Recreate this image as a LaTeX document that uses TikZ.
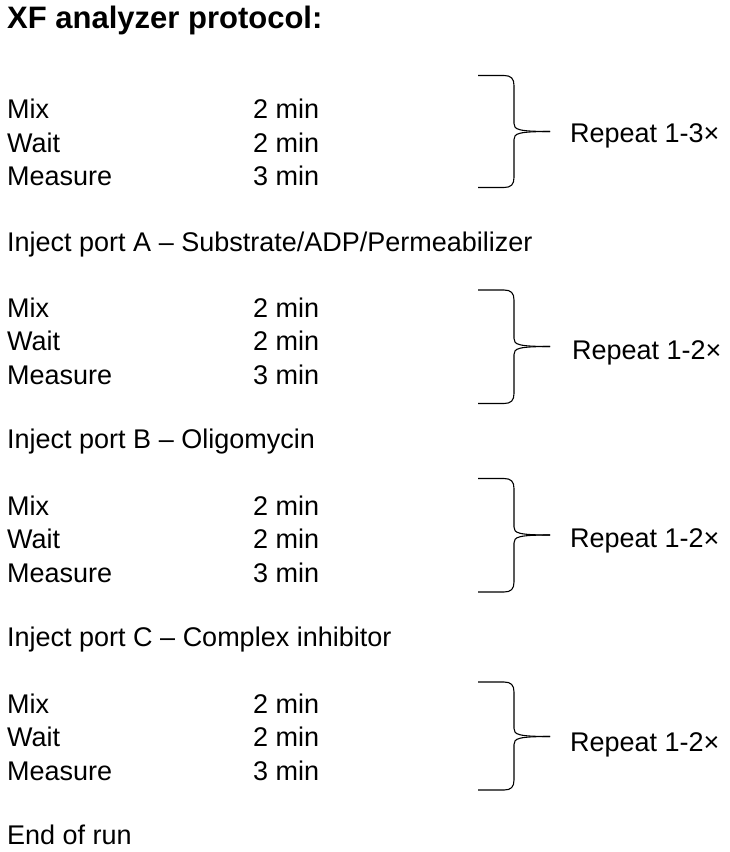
\documentclass[tikz,border=0pt]{standalone}
\usepackage{fontspec}
\setmainfont{Liberation Sans}
\newcommand{\mybrace}[3]{%
  \draw[brc] (478,#1) -- (504,#1) .. controls (511,#1) and (514,#1+3) .. (514,#1+10)
    -- (514,#2-8) .. controls (514,#2-2) and (518,#2) .. (550,#2);
  \draw[brc] (478,#3) -- (504,#3) .. controls (511,#3) and (514,#3-3) .. (514,#3-10)
    -- (514,#2+8) .. controls (514,#2+2) and (518,#2) .. (550,#2);}
\begin{document}
\begin{tikzpicture}[x=1pt,y=-1pt,
  txt/.style={anchor=base west,inner sep=0pt,font=\fontsize{27}{31}\selectfont},
  ttl/.style={anchor=base west,inner sep=0pt,font=\fontsize{31}{35}\selectfont\bfseries},
  brc/.style={line width=1.1pt,black}]
\useasboundingbox (0,0) rectangle (729,852);
\node[ttl] (title) at (7,28) {XF analyzer protocol:};
% block 1
\node[txt] (mix1) at (7,118) {Mix};
\node[txt] (wait1) at (7,152) {Wait};
\node[txt] (meas1) at (7,185) {Measure};
\node[txt] (t1a) at (253,118) {2 min};
\node[txt] (t1b) at (253,152) {2 min};
\node[txt] (t1c) at (253,185) {3 min};
\node[txt] (rep1) at (570,142.5) {Repeat 1-3×};
\node[txt] (injA) at (7,251.5) {Inject port A – Substrate/ADP/Permeabilizer};
% block 2
\node[txt] (mix2) at (7,317) {Mix};
\node[txt] (wait2) at (7,350) {Wait};
\node[txt] (meas2) at (7,384) {Measure};
\node[txt] (t2a) at (253,317) {2 min};
\node[txt] (t2b) at (253,350) {2 min};
\node[txt] (t2c) at (253,384) {3 min};
\node[txt] (rep2) at (572,359.5) {Repeat 1-2×};
\node[txt] (injB) at (7,448.5) {Inject port B – Oligomycin};
% block 3
\node[txt] (mix3) at (7,515) {Mix};
\node[txt] (wait3) at (7,548) {Wait};
\node[txt] (meas3) at (7,582) {Measure};
\node[txt] (t3a) at (253,515) {2 min};
\node[txt] (t3b) at (253,548) {2 min};
\node[txt] (t3c) at (253,582) {3 min};
\node[txt] (rep3) at (570,547.5) {Repeat 1-2×};
\node[txt] (injC) at (7,646.5) {Inject port C – Complex inhibitor};
% block 4
\node[txt] (mix4) at (7,713) {Mix};
\node[txt] (wait4) at (7,746) {Wait};
\node[txt] (meas4) at (7,780) {Measure};
\node[txt] (t4a) at (253,713) {2 min};
\node[txt] (t4b) at (253,746) {2 min};
\node[txt] (t4c) at (253,780) {3 min};
\node[txt] (rep4) at (570,751.5) {Repeat 1-2×};
\node[txt] (end) at (7,844) {End of run};
% braces
\mybrace{75.5}{131.5}{187.5}
\mybrace{290}{346.5}{403.5}
\mybrace{478.5}{535}{592}
\mybrace{682}{736.5}{790}
\end{tikzpicture}
\end{document}
